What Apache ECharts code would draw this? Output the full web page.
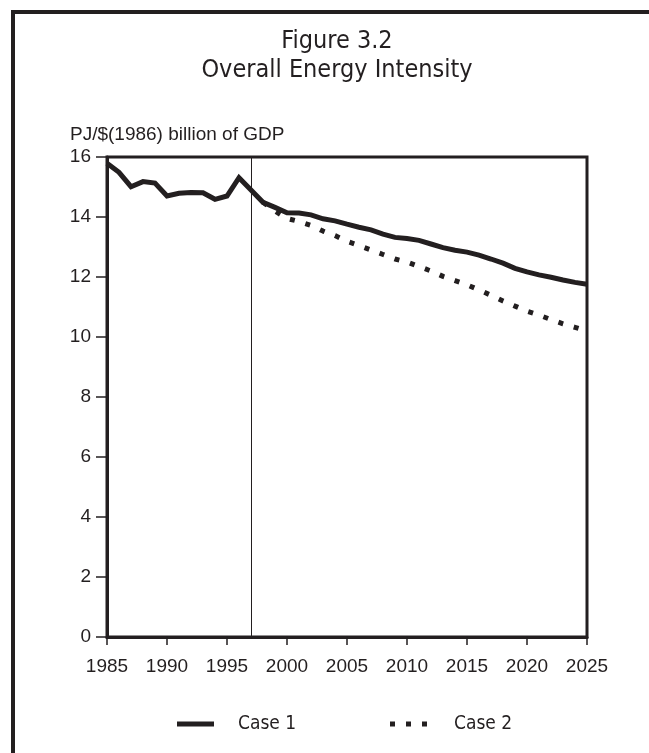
<!DOCTYPE html>
<html>
<head>
<meta charset="utf-8">
<script src="https://cdn.jsdelivr.net/npm/echarts@6/dist/echarts.min.js"></script>
<style>
  html, body { margin: 0; padding: 0; background: #fff; }
  #wrap { position: relative; width: 649px; height: 753px; overflow: hidden; }
  #frame { position: absolute; left: 11px; top: 10px; width: 700px; height: 800px;
           border-left: 4px solid #231f20; border-top: 4px solid #231f20; }
  #main { position: absolute; left: 0; top: 0; width: 649px; height: 753px; }
</style>
</head>
<body>
<div id="wrap">
  <div id="frame"></div>
  <div id="main"></div>
</div>
<script>
// years on the x axis
var years = [1985, 1986, 1987, 1988, 1989, 1990, 1991, 1992, 1993, 1994,
             1995, 1996, 1997, 1998, 1999, 2000, 2001, 2002, 2003, 2004,
             2005, 2006, 2007, 2008, 2009, 2010, 2011, 2012, 2013, 2014,
             2015, 2016, 2017, 2018, 2019, 2020, 2021, 2022, 2023, 2024, 2025];
// PJ/$(1986) billion of GDP
var case1 = [15.79, 15.49, 15.01, 15.18, 15.13, 14.70, 14.79, 14.82, 14.81, 14.59,
             14.70, 15.31, 14.90, 14.49, 14.32, 14.14, 14.13, 14.07, 13.94, 13.87,
             13.76, 13.66, 13.57, 13.43, 13.32, 13.28, 13.22, 13.10, 12.98, 12.89,
             12.83, 12.73, 12.60, 12.46, 12.29, 12.17, 12.07, 11.99, 11.90, 11.82, 11.76];
var case2 = [null, null, null, null, null, null, null, null, null, null,
             null, null, null, 14.49, 14.20, 13.95, 13.85, 13.72, 13.53, 13.38,
             13.19, 13.05, 12.90, 12.75, 12.60, 12.50, 12.35, 12.20, 12.02, 11.88,
             11.74, 11.57, 11.39, 11.20, 11.03, 10.86, 10.73, 10.58, 10.44, 10.32, 10.20];
var yTicks = [0, 2, 4, 6, 8, 10, 12, 14, 16];
var xTicks = [1985, 1990, 1995, 2000, 2005, 2010, 2015, 2020, 2025];
var projectionStart = 1997;

var ink = '#231f20';
var narrow = '"DejaVu Sans Condensed", "Liberation Sans Narrow", sans-serif';
var plain = '"Liberation Sans", Arial, sans-serif';

function pairs(vals) {
  var out = [];
  for (var i = 0; i < years.length; i++) {
    if (vals[i] != null) out.push([years[i], vals[i]]);
  }
  return out;
}

var chart = echarts.init(document.getElementById('main'));
var option = {
  backgroundColor: 'transparent',
  animation: false,
  title: [
    {
      text: 'Figure 3.2\nOverall Energy Intensity',
      left: 337, top: 27, padding: 0, textAlign: 'center',
      textStyle: { fontFamily: narrow, fontSize: 25, lineHeight: 29, fontWeight: 'normal', color: ink }
    },
    {
      text: 'PJ/$(1986) billion of GDP',
      left: 70, top: 125, padding: 0,
      textStyle: { fontFamily: plain, fontSize: 19, lineHeight: 20, fontWeight: 'normal', color: ink }
    }
  ],
  legend: [
    {
      left: 177, top: 714, padding: 0,
      itemWidth: 37, itemHeight: 5,
      data: [{ name: 'Case 1', icon: 'path://M0,0h37v5h-37z' }],
      itemStyle: { color: ink },
      textStyle: { fontFamily: narrow, fontSize: 19, lineHeight: 20, color: ink, padding: [0, 0, 0, 19] }
    },
    {
      left: 390, top: 714, padding: 0,
      itemWidth: 37, itemHeight: 5,
      data: [{ name: 'Case 2', icon: 'path://M0,0h5v5h-5zM16,0h5v5h-5zM32,0h5v5h-5z' }],
      itemStyle: { color: ink },
      textStyle: { fontFamily: narrow, fontSize: 19, lineHeight: 20, color: ink, padding: [0, 0, 0, 22] }
    }
  ],
  grid: {
    left: 107, right: 62, top: 157, bottom: 116,
    show: true, borderColor: ink, borderWidth: 3, backgroundColor: 'transparent'
  },
  xAxis: {
    type: 'value',
    min: xTicks[0], max: xTicks[xTicks.length - 1], interval: 5,
    axisLine: { show: true, lineStyle: { color: ink, width: 3 } },
    axisTick: { show: true, inside: false, length: 8, lineStyle: { color: ink, width: 1.5 } },
    axisLabel: {
      margin: 20, fontFamily: plain, fontSize: 19, lineHeight: 19, color: ink,
      formatter: function (v) { return String(v); }
    },
    splitLine: { show: false }
  },
  yAxis: {
    type: 'value',
    min: yTicks[0], max: yTicks[yTicks.length - 1], interval: 2,
    axisLine: { show: true, lineStyle: { color: ink, width: 3 } },
    axisTick: { show: true, inside: false, length: 11, lineStyle: { color: ink, width: 1.5 } },
    axisLabel: { margin: 16, fontFamily: plain, fontSize: 19, color: ink },
    splitLine: { show: false }
  },
  series: [
    {
      name: 'Case 1',
      type: 'line',
      data: pairs(case1),
      showSymbol: false,
      symbol: 'none',
      z: 3,
      lineStyle: { color: ink, width: 5, join: 'miter' },
      markLine: {
        silent: true,
        symbol: 'none',
        label: { show: false },
        lineStyle: { color: ink, width: 1, type: 'solid' },
        data: [{ xAxis: projectionStart }]
      }
    },
    {
      name: 'Case 2',
      type: 'line',
      data: pairs(case2),
      showSymbol: false,
      symbol: 'none',
      z: 2,
      lineStyle: { color: ink, width: 5, type: [5, 11], cap: 'butt' }
    }
  ]
};
chart.setOption(option);
</script>
</body>
</html>
